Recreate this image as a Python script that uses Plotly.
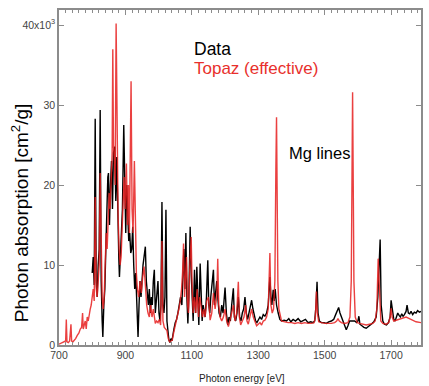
import plotly.graph_objects as go

# Measured spectrum ("Data"), energy in eV, absorption in units of 1e3 cm^2/g
data_e = [800, 803, 806, 809, 812, 815, 818, 821, 824, 827, 830, 832, 835, 838, 841, 844, 847, 849,
          852, 855, 858, 861, 864, 868, 871, 874, 877, 880, 882, 885, 888, 891, 895, 898, 901, 904,
          907, 910, 913, 916, 919, 922, 925, 928, 931, 934, 938, 941, 944, 947, 950, 953, 956, 960,
          963, 966, 969, 972, 975, 978, 981, 984, 987, 990, 993, 996, 998, 1001, 1004, 1007, 1010,
          1013, 1016, 1019, 1022, 1025, 1028, 1031, 1034, 1037, 1040, 1043, 1046, 1050, 1054, 1058,
          1062, 1066, 1070, 1073, 1076, 1079, 1082, 1085, 1088, 1091, 1095, 1098, 1101, 1104, 1108,
          1111, 1115, 1118, 1121, 1125, 1128, 1131, 1134, 1137, 1140, 1144, 1148, 1151, 1154, 1157,
          1161, 1165, 1168, 1171, 1175, 1178, 1182, 1186, 1190, 1194, 1200, 1204, 1208, 1212, 1216,
          1220, 1225, 1228, 1232, 1236, 1240, 1244, 1248, 1252, 1256, 1260, 1264, 1268, 1272, 1276,
          1280, 1284, 1288, 1292, 1296, 1300, 1305, 1310, 1315, 1320, 1325, 1330, 1335, 1338, 1341,
          1345, 1348, 1351, 1355, 1360, 1365, 1370, 1378, 1385, 1392, 1398, 1405, 1412, 1420, 1428,
          1435, 1442, 1450, 1458, 1465, 1470, 1474, 1477, 1480, 1484, 1490, 1498, 1505, 1512, 1520,
          1527, 1533, 1538, 1542, 1546, 1550, 1555, 1560, 1565, 1570, 1575, 1580, 1585, 1590, 1596,
          1600, 1603, 1606, 1612, 1618, 1625, 1632, 1640, 1648, 1655, 1660, 1664, 1667, 1670, 1675,
          1680, 1686, 1692, 1697, 1700, 1704, 1708, 1712, 1716, 1720, 1724, 1728, 1732, 1736, 1740,
          1745, 1748, 1752, 1756, 1760, 1765, 1770, 1775, 1780, 1785, 1790]
data_v = [9.0, 11.0, 7.5, 28.3, 8.0, 6.0, 10.0, 12.0, 29.4, 8.0, 3.0, 1.0, 5.0, 7.0, 12.0, 17.0, 21.0, 21.5,
          15.0, 20.0, 23.0, 17.0, 24.0, 24.8, 18.0, 23.5, 15.0, 11.0, 8.5, 12.0, 13.0, 17.0, 27.5, 18.0, 14.0, 20.0,
          16.0, 13.0, 14.0, 11.5, 12.0, 14.8, 10.0, 7.0, 9.0, 4.0, 1.0, 5.0, 8.0, 6.0, 9.0, 10.0, 11.0, 12.3,
          8.0, 6.0, 5.0, 7.0, 4.0, 6.0, 5.0, 8.0, 9.4, 4.0, 6.0, 8.0, 8.0, 4.0, 3.0, 5.0, 17.9,
          5.0, 4.0, 6.0, 16.9, 3.0, 1.5, 0.6, 0.3, 0.8, 0.5, 1.5, 2.0, 2.8, 3.2, 4.0,
          5.0, 6.0, 5.0, 9.0, 12.0, 7.0, 14.0, 6.0, 2.7, 6.0, 14.8, 9.0, 5.0, 3.0, 9.4,
          4.0, 9.8, 4.0, 2.5, 10.2, 5.0, 3.0, 5.0, 4.0, 3.5, 6.0, 10.6, 5.0, 4.0, 6.0,
          8.0, 9.4, 5.0, 6.0, 8.0, 6.0, 4.0, 3.5, 5.0, 4.0, 7.2, 4.0, 2.5, 3.5, 3.0,
          5.0, 7.1, 3.5, 3.0, 4.0, 6.0, 3.5, 3.0, 4.0, 4.5, 6.0, 4.0, 3.2, 4.0, 5.0,
          5.6, 4.5, 3.5, 3.0, 2.8, 3.2, 3.5, 3.2, 3.8, 3.6, 4.0, 5.0, 8.5, 6.0, 5.0,
          6.9, 5.5, 7.0, 5.0, 4.0, 3.2, 3.0, 3.1, 3.0, 3.3, 2.9, 3.2, 3.0, 3.3, 2.9,
          3.0, 3.2, 2.8, 2.9, 2.8, 3.0, 5.0, 7.9, 4.0, 3.0, 2.8, 2.8, 2.7, 2.9, 3.0,
          3.2, 3.8, 4.4, 4.7, 4.0, 3.5, 3.0, 2.5, 1.9, 2.4, 3.0, 3.0, 3.0, 3.0, 2.8,
          3.0, 3.6, 2.6, 2.4, 2.2, 2.1, 2.3, 2.6, 2.9, 3.5, 6.0, 11.0, 13.2, 5.0, 3.0,
          2.6, 2.5, 2.8, 3.5, 5.6, 4.5, 3.2, 3.0, 3.5, 4.0, 3.7, 3.5, 3.9, 3.6, 3.8,
          4.2, 5.0, 4.0, 3.9, 4.2, 3.8, 4.1, 4.0, 4.3, 4.1, 4.2]

# Model ("Topaz (effective)")
topaz_e = [700, 705, 710, 715, 720, 722, 724, 728, 732, 736, 738, 742, 746, 750, 755, 760, 764, 768,
           771, 773, 776, 779, 782, 785, 788, 791, 794, 797, 800, 803, 806, 809, 812, 815, 818, 821,
           824, 827, 830, 833, 836, 839, 842, 845, 848, 851, 854, 857, 860, 862, 864, 867, 869, 872,
           875, 878, 881, 884, 887, 890, 893, 896, 899, 903, 906, 909, 912, 915, 917, 920, 923, 927,
           930, 933, 936, 940, 944, 948, 952, 956, 960, 964, 968, 972, 976, 980, 984, 988, 990, 994,
           998, 1002, 1006, 1010, 1013, 1017, 1021, 1025, 1029, 1033, 1037, 1041, 1045, 1049, 1053,
           1057, 1061, 1065, 1069, 1072, 1075, 1078, 1081, 1084, 1087, 1090, 1094, 1098, 1101, 1104,
           1108, 1112, 1116, 1120, 1124, 1128, 1132, 1136, 1140, 1145, 1150, 1155, 1160, 1165, 1170,
           1175, 1178, 1181, 1185, 1190, 1195, 1200, 1205, 1210, 1215, 1220, 1225, 1230, 1235, 1240,
           1243, 1247, 1252, 1257, 1262, 1266, 1270, 1275, 1280, 1285, 1290, 1295, 1300, 1305, 1310,
           1315, 1320, 1325, 1330, 1335, 1338, 1342, 1346, 1350, 1353, 1355, 1357, 1359, 1362, 1366,
           1370, 1380, 1390, 1400, 1410, 1420, 1430, 1440, 1450, 1460, 1468, 1472, 1475, 1478, 1482,
           1490, 1500, 1510, 1520, 1530, 1536, 1540, 1544, 1550, 1560, 1570, 1576, 1580, 1582, 1584,
           1586, 1588, 1592, 1598, 1605, 1615, 1625, 1635, 1645, 1652, 1657, 1661, 1665, 1669, 1675,
           1685, 1693, 1697, 1700, 1703, 1708, 1715, 1725, 1735, 1745, 1755, 1765, 1775, 1790]
topaz_v = [0.1, 0.2, 0.2, 0.3, 0.5, 3.2, 0.4, 0.3, 0.5, 2.6, 0.5, 0.4, 0.6, 0.8, 1.2, 1.5, 2.0, 2.2,
           4.0, 2.0, 2.5, 3.0, 2.0, 3.5, 3.0, 4.0, 4.5, 5.0, 6.0, 7.0, 5.5, 18.5, 7.0, 6.0, 8.0, 10.0,
           21.5, 10.0, 6.0, 4.5, 6.0, 10.0, 14.0, 12.0, 16.0, 19.0, 17.0, 22.0, 24.0, 37.0, 25.0, 23.0, 20.0, 40.2,
           24.0, 16.0, 12.0, 10.0, 11.0, 14.0, 18.0, 21.0, 17.0, 22.7, 15.0, 20.0, 14.0, 22.0, 33.0, 17.0, 14.0, 23.0,
           12.0, 9.0, 7.0, 6.0, 8.0, 6.5, 8.5, 9.8, 7.5, 5.0, 4.0, 3.5, 5.0, 3.5, 4.5, 3.0, 2.7, 3.0,
           2.8, 3.2, 2.5, 13.0, 3.0, 2.2, 2.0, 1.8, 0.8, 0.4, 0.5, 0.6, 1.5, 2.2, 3.0,
           3.5, 4.5, 5.5, 7.0, 9.0, 12.7, 6.0, 8.0, 11.0, 5.0, 4.0, 10.0, 13.5, 7.0, 4.0,
           6.0, 4.0, 7.0, 3.5, 6.0, 4.5, 3.5, 4.5, 3.5, 5.5, 6.0, 3.1, 4.0, 6.5, 4.5,
           6.0, 10.8, 5.0, 3.5, 3.0, 3.5, 4.5, 3.0, 2.3, 3.0, 4.0, 5.0, 3.0, 4.0, 7.9,
           3.5, 2.5, 3.0, 3.5, 5.0, 3.0, 2.6, 3.5, 4.5, 3.5, 2.8, 2.4, 2.6, 2.8, 2.5,
           3.0, 3.1, 3.5, 4.5, 11.5, 5.0, 4.0, 4.5, 8.0, 22.0, 28.5, 18.0, 8.0, 4.5, 3.5,
           3.0, 2.9, 2.8, 2.8, 2.7, 2.8, 2.7, 2.8, 2.7, 2.7, 2.8, 3.5, 6.7, 4.0, 2.9,
           2.8, 2.7, 2.7, 2.7, 2.8, 3.0, 3.3, 3.0, 2.8, 2.7, 2.8, 3.5, 8.0, 20.0, 31.6,
           20.0, 8.0, 3.5, 2.8, 2.7, 2.6, 2.5, 2.6, 2.7, 3.0, 4.5, 10.8, 6.0, 3.0, 2.7,
           2.6, 2.8, 3.5, 4.6, 3.5, 3.0, 3.1, 3.3, 3.4, 3.5, 3.3, 3.1, 2.9, 2.8]

y_ticks = [0, 10, 20, 30, 40]
y_tick_text = ["0", "10", "20", "30", "40x10<sup>3</sup>"]

FONT = "Liberation Sans, Arial, Helvetica, sans-serif"
AX = "#8c8c8c"

fig = go.Figure()
fig.add_trace(go.Scatter(x=data_e, y=[v * 1000 for v in data_v], mode="lines",
                         line=dict(color="black", width=1.4), name="Data"))
fig.add_trace(go.Scatter(x=topaz_e, y=[v * 1000 for v in topaz_v], mode="lines",
                         line=dict(color="rgba(230,30,30,0.85)", width=1.4), name="Topaz (effective)"))

axis_common = dict(showline=True, linecolor=AX, linewidth=1.5, mirror="ticks", ticks="inside",
                   tickcolor=AX, showgrid=False, zeroline=False,
                   tickfont=dict(family=FONT, size=10.5, color="#444"))

fig.update_xaxes(range=[700, 1790], tick0=700, dtick=200, ticklen=5,
                 minor=dict(dtick=20, tick0=700, ticks="inside", ticklen=3, tickcolor=AX),
                 **axis_common)
fig.update_yaxes(range=[0, 41900], tickvals=[v * 1000 for v in y_ticks], ticktext=y_tick_text,
                 ticklen=5, **axis_common)

fig.update_layout(
    width=429, height=386, margin=dict(l=59, r=6, t=10, b=41),
    paper_bgcolor="white", plot_bgcolor="white", showlegend=False,
    font=dict(family=FONT),
    annotations=[
        dict(text="Data", x=1101, y=37000, xref="x", yref="y", xanchor="left", yanchor="middle",
             showarrow=False, font=dict(size=17.5, color="black", family=FONT)),
        dict(text="Topaz (effective)", x=1101, y=34600, xref="x", yref="y", xanchor="left",
             yanchor="middle", showarrow=False, font=dict(size=17, color="#e8302c", family=FONT)),
        dict(text="Mg lines", x=1386, y=24000, xref="x", yref="y", xanchor="left", yanchor="middle",
             showarrow=False, font=dict(size=16.5, color="black", family=FONT)),
        dict(text="Photon absorption [cm<sup>2</sup>/g]", x=-0.107, y=0.394, xref="paper", yref="paper",
             textangle=-90, xanchor="center", yanchor="middle", showarrow=False,
             font=dict(size=19, color="black", family=FONT)),
        dict(text="Photon energy [eV]", x=0.505, y=-0.101, xref="paper", yref="paper",
             xanchor="center", yanchor="middle", showarrow=False,
             font=dict(size=10, color="#222", family=FONT)),
    ],
)

fig.write_html("out.html")
